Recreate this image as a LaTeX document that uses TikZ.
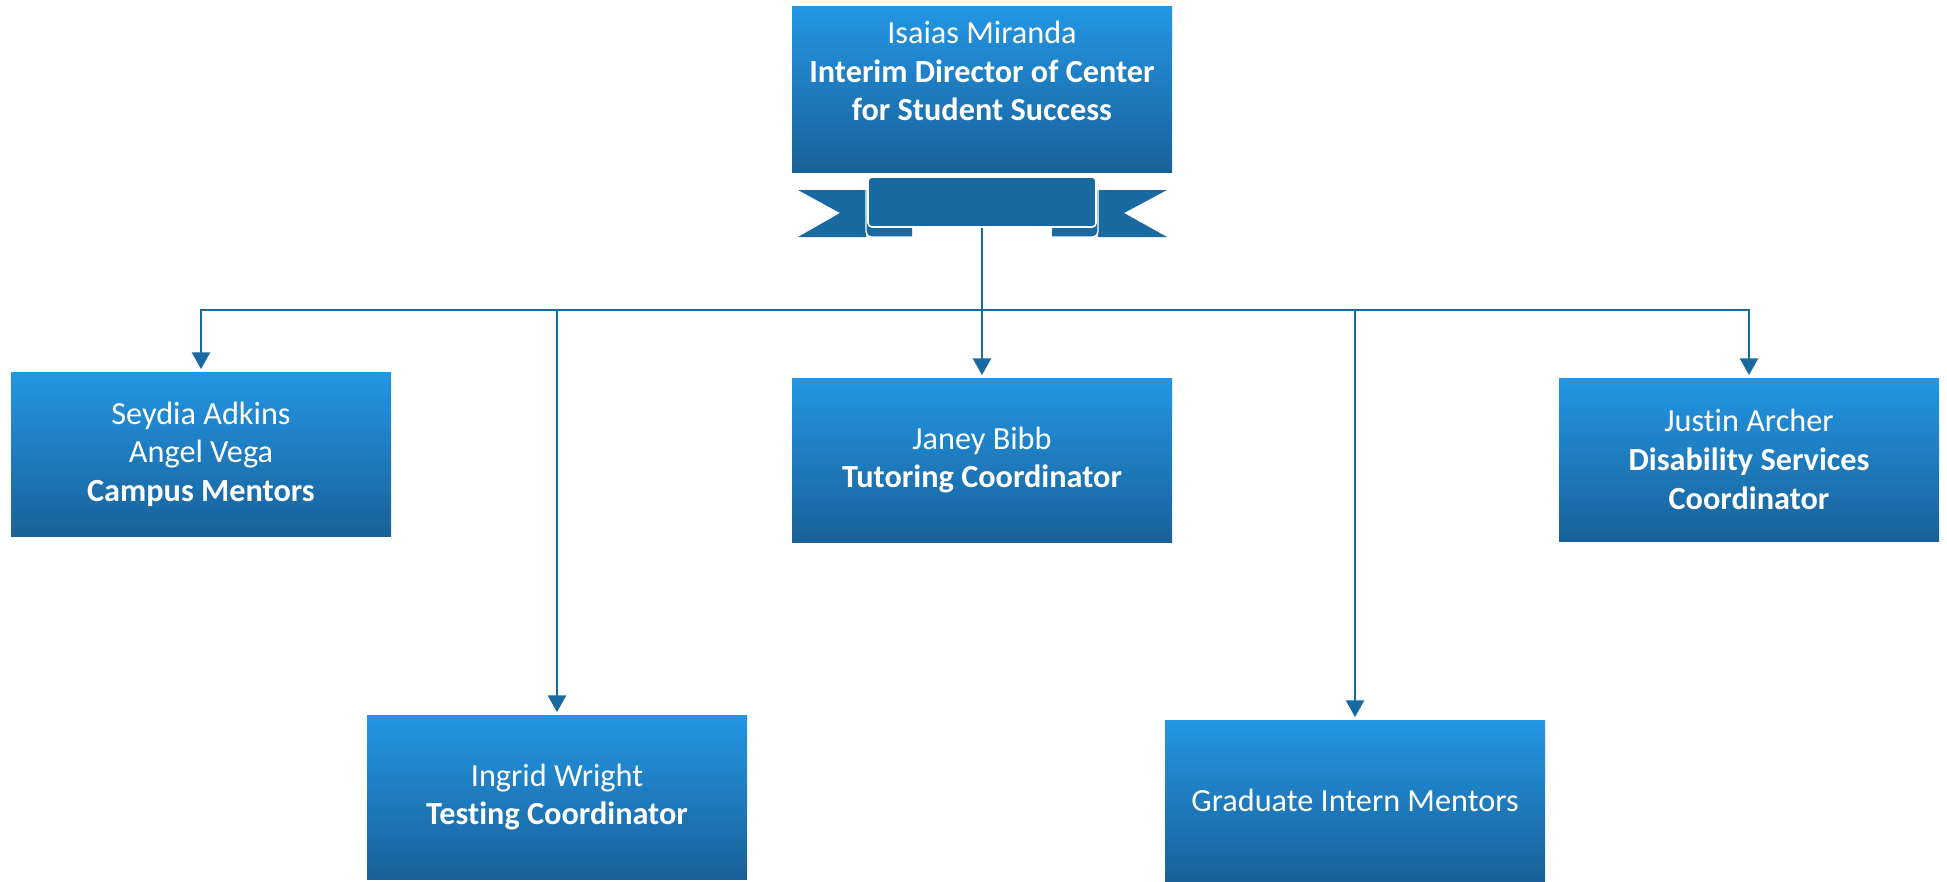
\documentclass[tikz,border=0pt]{standalone}
\usepackage{fontspec}
\setmainfont{Carlito}[Ligatures={NoCommon}]
\usetikzlibrary{arrows.meta}
\definecolor{rib}{RGB}{24,106,160}
\definecolor{boxtop}{RGB}{35,150,228}
\definecolor{boxbot}{RGB}{25,97,152}
\begin{document}
\begin{tikzpicture}[x=0.75pt,y=-0.75pt,
  orgbox/.style={rectangle, inner sep=0pt, minimum width=285pt, minimum height=123pt, top color=boxtop, bottom color=boxbot, draw=none},
  lbl/.style={text=white, align=center, font=\fontsize{24.2}{29}\selectfont},
  conn/.style={draw=rib, line width=1.8pt, -{Triangle[width=13.5pt,length=12.5pt]}, shorten >=2pt},
  trunk/.style={draw=rib, line width=1.8pt}]
\useasboundingbox (0,0) rectangle (1947,881);

% top box
\node[orgbox, minimum height=123.75pt] (top) at (982,89.5) {};
\node[lbl] (toptext) at (982,71) {Isaias Miranda\\\textbf{Interim Director of Center}\\\textbf{for Student Success}};

% ribbon
\fill[rib] (798,190) -- (866,190) -- (866,237) -- (798,237) -- (840,213) -- cycle;
\fill[rib] (1167,190) -- (1098,190) -- (1098,237) -- (1167,237) -- (1124,213) -- cycle;
\draw[fill=rib, draw=white, line width=1pt, rounded corners=4pt] (912,237) -- (866,237) -- (866,185) -- (912,185);
\draw[fill=rib, draw=white, line width=1pt, rounded corners=4pt] (1052,237) -- (1098,237) -- (1098,185) -- (1052,185);
\draw[fill=rib, draw=white, line width=1.2pt, rounded corners=3pt] (868,177) rectangle (1096,227);
\coordinate (rb) at (982,227.6);
\coordinate (hub) at (982,310);

% child boxes
\node[orgbox] (campus) at (201,454) {};
\node[lbl] at (campus.center) {Seydia Adkins\\Angel Vega\\\textbf{Campus Mentors}};
\node[orgbox] (testing) at (557,797) {};
\node[lbl] at (testing.center) {Ingrid Wright\\\textbf{Testing Coordinator}};
\node[orgbox] (janey) at (982,460) {};
\node[lbl] at (janey.center) {Janey Bibb\\\textbf{Tutoring Coordinator}};
\node[orgbox, minimum height=120.75pt] (grad) at (1355,800.5) {};
\node[lbl] at (grad.center) {Graduate Intern Mentors};
\node[orgbox, minimum height=122.25pt] (disab) at (1749,459.5) {};
\node[lbl] at (disab.center) {Justin Archer\\\textbf{Disability Services}\\\textbf{Coordinator}};

% connectors
\draw[trunk] (rb) -- (hub);
\draw[conn] (hub) -| (campus.north);
\draw[conn] (hub) -| (testing.north);
\draw[conn] (hub) -- (janey.north);
\draw[conn] (hub) -| (grad.north);
\draw[conn] (hub) -| (disab.north);
\end{tikzpicture}
\end{document}
